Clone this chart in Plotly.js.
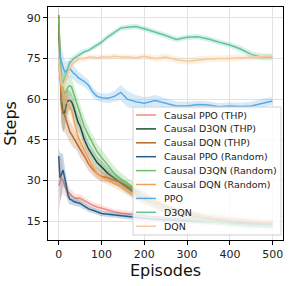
<!DOCTYPE html>
<html><head><meta charset="utf-8">
<script src="https://cdn.plot.ly/plotly-3.0.1.min.js"></script>
<style>html,body{margin:0;padding:0;background:#fff;}#plot{width:291px;height:286px;}</style>
</head><body><div id="plot"></div>
<script>
const episodes = [0,3,6,10,14,18,22,26,30,35,40,45,50,60,70,80,90,100,115,130,145,160,180,200,225,250,275,300,325,350,375,400,425,450,475,499];

const seriesNames = ["Causal PPO (THP)","Causal D3QN (THP)","Causal DQN (THP)","Causal PPO (Random)","Causal D3QN (Random)","Causal DQN (Random)","PPO","D3QN","DQN"];

const causalPpoThp = [28,30,31,30,28,26.5,25.8,25,24.5,23.8,23.4,23.5,23.4,22.5,21.5,20.8,20.2,19.7,19,18.4,18,17.8,17.5,17,16.6,16.2,15.9,15.6,15.4,15.2,15,14.8,14.6,14.4,14.3,14.2];
const causalD3qnThp = [88,70,60,55,55,58,59.5,59.5,59,57,54,51.5,50,45,41.5,39,36.5,35,32.6,30.8,29,27.2,25,23,21,19.5,18.3,17.5,16.5,15.8,15.3,15,14.6,14.2,13.9,13.6];
const causalDqnThp = [91,68,58,55,54,52,50,48,47,45.5,44.5,43,41.5,39,36,34,32.5,31.5,31,30,29.3,28,26,24.5,22,20.5,19,18,17.2,16.5,16,15.5,15.1,14.7,14.4,14.2];
const causalPpoRandom = [39,31,32,33.8,31,27,24.5,23,22.8,22.2,22,21.8,21.5,20.5,19.5,19,18.3,17.8,17.5,17.2,16.9,16.6,16.3,16,15.7,15.4,15.2,15,14.8,14.6,14.5,14.3,14.2,14,13.9,13.8];
const causalD3qnRandom = [90,75,68,64,62,63,64.6,65,64.5,62,59.5,57,54.5,49.8,46.5,43.5,40.5,38.5,35.5,32.6,30.5,29,26.5,24.5,21.5,19.5,18,16.8,15.8,15,14.3,13.8,13.3,13,12.9,12.8];
const causalDqnRandom = [73,68,65,63,60.5,59,58,57,56,52.5,49,46.5,44.5,41,38,35,32.5,31.2,30,28.9,27.5,26,24,22.5,21,19.5,18.5,17.7,17,16.5,16,15.6,15.3,15,14.8,14.6];
const ppo = [74,76,74,72,70,70.5,71,71.3,70.5,69.5,69,68,67.5,66.5,65,62.5,61,60.5,60.3,61,62.5,60,59,58.5,59.5,58.5,57.5,57.5,58,57.8,57.2,57.5,57.3,57.5,58.5,59.3];
const d3qn = [75,71,67,66,68,70,72,73.5,74,75,75.5,76,76.8,77.5,78,79,80,81,83,84.5,86.2,86.5,86.8,86,84.8,83.5,82,82.8,83,82.2,81,80,78.5,76.5,75.5,75.5];
const dqn = [75,70,66,65,66,68,70,71.5,72.5,73.5,74,74.5,75,75,75.5,75.5,75.2,75.5,75.5,75.8,75.5,75.5,75.3,75.8,75,75.5,74.5,74,74.5,74.8,75,75,75.3,75.5,75.5,75.8];

const causalPpoThpSd = [10,9,7,5,4,3,2.5,2,2,1.8,1.5,1.5,1.5,1.3,1.2,1.2,1.2,1.2,1.1,1,1,1,1,1,1,1,1,1,1,1,1,1,1,1,1,1];
const causalD3qnThpSd = [5,8,8,7,6,5,4,3.5,3,3,3,3,3,2.8,2.6,2.5,2.4,2.3,2.2,2,2,2,2,1.8,1.6,1.5,1.4,1.3,1.2,1.1,1,1,1,1,1,1];
const causalDqnThpSd = [5,8,8,7,6,5,4.5,4,4,3.5,3,3,3,2.8,2.5,2.3,2,1.8,1.7,1.6,1.5,1.5,1.4,1.3,1.2,1.2,1.1,1,1,1,1,1,1,1,1,1];
const causalPpoRandomSd = [3,9,8,6,4,3,2.5,2,1.8,1.5,1.5,1.5,1.3,1.2,1.2,1.1,1,1,1,1,1,1,1,1,1,1,1,1,1,1,1,1,1,1,1,1];
const causalD3qnRandomSd = [4,8,8,7,6,5,4,3.5,3.5,3.5,3.5,3.5,3.5,3.5,3.3,3.2,3,3,2.8,2.5,2.3,2.1,2,1.8,1.6,1.5,1.4,1.3,1.2,1.1,1,1,1,1,1,1];
const causalDqnRandomSd = [4,6,6,5,4.5,4,3.5,3,3,3,3,3,2.8,2.5,2.3,2,1.8,1.7,1.6,1.5,1.5,1.5,1.4,1.3,1.3,1.2,1.2,1.2,1.1,1.1,1.1,1,1,1,1,1];
const ppoSd = [4,5,5,5,4,3.5,3,3,2.8,2.6,2.5,2.3,2.2,2,2,1.8,1.6,1.6,1.8,2,2.8,3,2.5,2.2,2,1.8,1.6,1.5,1.4,1.3,1.3,1.3,1.4,1.5,1.6,1.5];
const d3qnSd = [4,4,4,3,2.5,2,1.8,1.6,1.5,1.3,1.2,1.2,1.1,1,1,1,1,1,1,1,1,1,1,1,1,1,1,1,1,1,1,1,1.2,1.2,1.2,1.2];
const dqnSd = [4,4,4,3,2.5,2,1.8,1.6,1.5,1.3,1.2,1.2,1.1,1,1,1,1,1,1,1,1,1,1,1,1.2,1.3,1.3,1.3,1.3,1.2,1.2,1.2,1.1,1.1,1.1,1.1];

const seriesColors = ["#f28b82","#1a5230","#b8692a","#24608f","#6cc06a","#f0a05a","#5aaae6","#5fc4a4","#f8c996"];
const xTicks = [0,100,200,300,400,500];
const yTicks = [15,30,45,60,75,90];

const means = [causalPpoThp,causalD3qnThp,causalDqnThp,causalPpoRandom,causalD3qnRandom,causalDqnRandom,ppo,d3qn,dqn];
const sds = [causalPpoThpSd,causalD3qnThpSd,causalDqnThpSd,causalPpoRandomSd,causalD3qnRandomSd,causalDqnRandomSd,ppoSd,d3qnSd,dqnSd];

function rgba(hex,a){const n=parseInt(hex.slice(1),16);return `rgba(${(n>>16)&255},${(n>>8)&255},${n&255},${a})`;}

const traces=[];
means.forEach((m,i)=>{
  const sd=sds[i];
  traces.push({x:episodes,y:m.map((v,k)=>v-sd[k]),mode:'lines',line:{width:0,color:seriesColors[i]},showlegend:false,hoverinfo:'skip'});
  traces.push({x:episodes,y:m.map((v,k)=>v+sd[k]),mode:'lines',line:{width:0,color:seriesColors[i]},fill:'tonexty',fillcolor:rgba(seriesColors[i],0.25),showlegend:false,hoverinfo:'skip'});
  traces.push({x:episodes,y:m,mode:'lines',line:{width:1.5,color:seriesColors[i]},name:seriesNames[i],showlegend:false});
});

// plot area geometry (px) for manual legend
const W=291,H=286,ML=48,MR=8,MT=7,MB=46;
const PW=W-ML-MR, PH=H-MT-MB;
const px2x=p=>(p-ML)/PW, px2y=p=>(H-MB-p)/PH;

const shapes=[{type:'rect',xref:'paper',yref:'paper',x0:px2x(133),x1:px2x(281),y0:px2y(235),y1:px2y(107),
  fillcolor:'rgba(255,255,255,0.8)',line:{color:'#d0d0d0',width:1},layer:'above'}];
const annotations=[];
seriesNames.forEach((n,i)=>{
  const yy=115+13.9*i;
  shapes.push({type:'line',xref:'paper',yref:'paper',x0:px2x(136),x1:px2x(156),y0:px2y(yy),y1:px2y(yy),line:{color:seriesColors[i],width:1.5},layer:'above'});
  annotations.push({xref:'paper',yref:'paper',x:px2x(162),y:px2y(yy),xanchor:'left',yanchor:'middle',text:n,showarrow:false,font:{family:'DejaVu Sans',size:9.5,color:'#222'}});
});

const layout={
  width:W,height:H,margin:{l:ML,r:MR,t:MT,b:MB},
  paper_bgcolor:'#fff',plot_bgcolor:'#fff',showlegend:false,
  font:{family:'DejaVu Sans',color:'#222'},
  xaxis:{range:[-25,524],tickvals:xTicks,ticktext:xTicks.map(String),ticks:'outside',ticklen:4,tickcolor:'#000',
    showline:true,linecolor:'#000',linewidth:1,mirror:true,showgrid:true,gridcolor:'#e3e3e3',zeroline:false,
    tickfont:{size:11,family:'DejaVu Sans',color:'#222'},title:{text:'Episodes',font:{size:16,family:'DejaVu Sans',color:'#111'},standoff:4}},
  yaxis:{range:[8,94],tickvals:yTicks,ticktext:yTicks.map(String),ticks:'outside',ticklen:4,tickcolor:'#000',
    showline:true,linecolor:'#000',linewidth:1,mirror:true,showgrid:true,gridcolor:'#e3e3e3',zeroline:false,
    tickfont:{size:11,family:'DejaVu Sans',color:'#222'},title:{text:'Steps',font:{size:16,family:'DejaVu Sans',color:'#111'},standoff:6}},
  shapes:shapes,annotations:annotations
};
Plotly.newPlot('plot',traces,layout,{displayModeBar:false,staticPlot:true});
</script></body></html>
